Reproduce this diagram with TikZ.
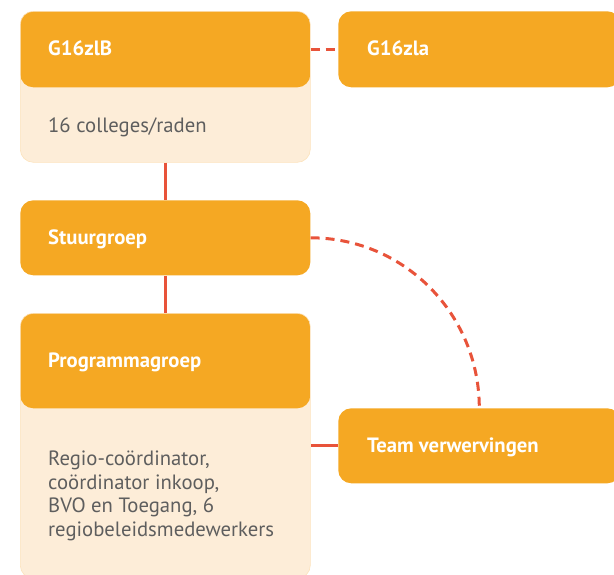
\documentclass[tikz,border=0pt]{standalone}
\usepackage{fontspec}
\setmainfont{PT Sans}
\usetikzlibrary{positioning}
\definecolor{boxorange}{HTML}{F5A823}
\definecolor{boxcream}{HTML}{FDEDD8}
\definecolor{linkred}{HTML}{E8533A}
\definecolor{bodygray}{HTML}{5E5E5E}

\tikzset{
  groupbox/.style={rectangle, anchor=north west, rounded corners=13pt, minimum width=290pt,
    fill=boxcream, draw=boxcream!85!boxorange, line width=0.6pt, inner sep=0pt},
  withhead/.style={path picture={\fill[boxorange] (path picture bounding box.north west)
    rectangle ([yshift=-#1]path picture bounding box.north east);}},
  headbox/.style={groupbox, fill=boxorange, draw=none},
  headtext/.style={anchor=base west, text=white, inner sep=0pt,
    font=\bfseries\fontsize{20.7}{24}\selectfont},
  bodytext/.style={anchor=base west, text=bodygray, align=left, inner sep=0pt,
    font=\fontsize{20.7}{23.5}\selectfont},
  link/.style={linkred, line width=3pt},
  dashlink/.style={link, dash pattern=on 9pt off 6pt},
}

\begin{document}
\begin{tikzpicture}[x=1pt, y=-1pt]
  \useasboundingbox (0,0) rectangle (614,574);
  \clip (0,0) rectangle (614,574);

  % boxes
  \node[groupbox, withhead=76pt, minimum height=151pt] (zlb) at (20,11) {};
  \node[headbox, minimum width=282pt, minimum height=76pt] (zla) at (338,11) {};
  \node[headbox, minimum height=75pt] (stuur) at (20,200) {};
  \node[groupbox, withhead=95pt, minimum height=265pt] (prog) at (20,313) {};
  \node[headbox, minimum width=282pt, minimum height=75pt] (team) at (338,408) {};

  % texts
  \node[headtext] (zlbtitle) at (48,55) {G16zlB};
  \node[bodytext] (zlbtext) at (48,132) {16 colleges/raden};
  \node[headtext] (zlatitle) at (367,55) {G16zla};
  \node[headtext] (stuurtitle) at (48,244) {Stuurgroep};
  \node[headtext] (progtitle) at (48,367) {Programmagroep};
  \node[bodytext] (progtext) at (48,536) {Regio-coördinator,\\coördinator inkoop,\\BVO en Toegang, 6\\regiobeleidsmedewerkers};
  \node[headtext] (teamtitle) at (367,452) {Team verwervingen};

  % links
  \draw[dashlink] (zla.west -| zlb.east) -- (zla.west);
  \draw[link] (zlb.south) -- (stuur.north);
  \draw[link] (stuur.south) -- (prog.north);
  \draw[link] (team.west) -- (team.west -| prog.east);
  \draw[dashlink] (stuur.east) to[out=0, in=90] (team.north);
\end{tikzpicture}
\end{document}
